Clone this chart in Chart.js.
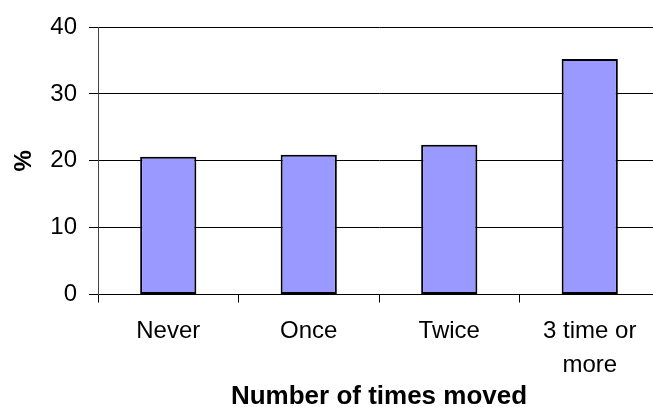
<!DOCTYPE html>
<html>
<head>
<meta charset="utf-8">
<script src="https://cdn.jsdelivr.net/npm/chart.js@4"></script>
<style>
  html, body { margin: 0; padding: 0; background: #fff; overflow: hidden; }
  #wrap { position: relative; width: 662px; height: 412px; }
</style>
</head>
<body>
<div id="wrap"><canvas id="c"></canvas></div>
<script>
// Share of respondents by number of times moved
const categories = ['Never', 'Once', 'Twice', ['3 time or', 'more']];
const percentValues = [20.6, 20.9, 22.4, 35.2];
const yTicks = [0, 10, 20, 30, 40];

const FONT = '"Liberation Sans", Arial, sans-serif';

new Chart(document.getElementById('c'), {
  type: 'bar',
  data: {
    labels: categories,
    datasets: [{
      data: percentValues,
      backgroundColor: '#9999FF',
      borderColor: '#000000',
      borderWidth: 2,
      borderSkipped: false,
      barPercentage: 0.4,
      categoryPercentage: 1.0
    }]
  },
  options: {
    responsive: true,
    maintainAspectRatio: false,
    animation: false,
    layout: { padding: { top: 27, right: 2, bottom: 0, left: 0 } },
    plugins: { legend: { display: false }, tooltip: { enabled: false } },
    scales: {
      x: {
        offset: true,
        grid: {
          offset: true,
          drawOnChartArea: false,
          drawTicks: true,
          tickLength: 8,
          color: '#000'
        },
        border: { display: true, color: '#000', width: 1 },
        ticks: {
          color: '#000',
          padding: 12,
          maxRotation: 0,
          autoSkip: false,
          font: { family: FONT, size: 24, lineHeight: '34px' }
        },
        title: {
          display: true,
          text: 'Number of times moved',
          color: '#000',
          padding: 0,
          font: { family: FONT, size: 26, weight: 'bold' }
        },
        afterFit: (s) => { s.height = 117.5; }
      },
      y: {
        min: yTicks[0],
        max: yTicks[yTicks.length - 1],
        afterBuildTicks: (s) => { s.ticks = yTicks.map(v => ({ value: v })); },
        grid: {
          color: '#000',
          tickLength: 9,
          drawTicks: true
        },
        border: { display: true, color: '#444', width: 1 },
        ticks: {
          color: '#000',
          padding: 12,
          font: { family: FONT, size: 24 }
        },
        title: {
          display: true,
          text: '%',
          color: '#000',
          padding: { top: 10, bottom: 0 },
          font: { family: FONT, size: 24, weight: 'bold' }
        },
        afterFit: (s) => { s.width = 98; }
      }
    }
  }
});
</script>
</body>
</html>
